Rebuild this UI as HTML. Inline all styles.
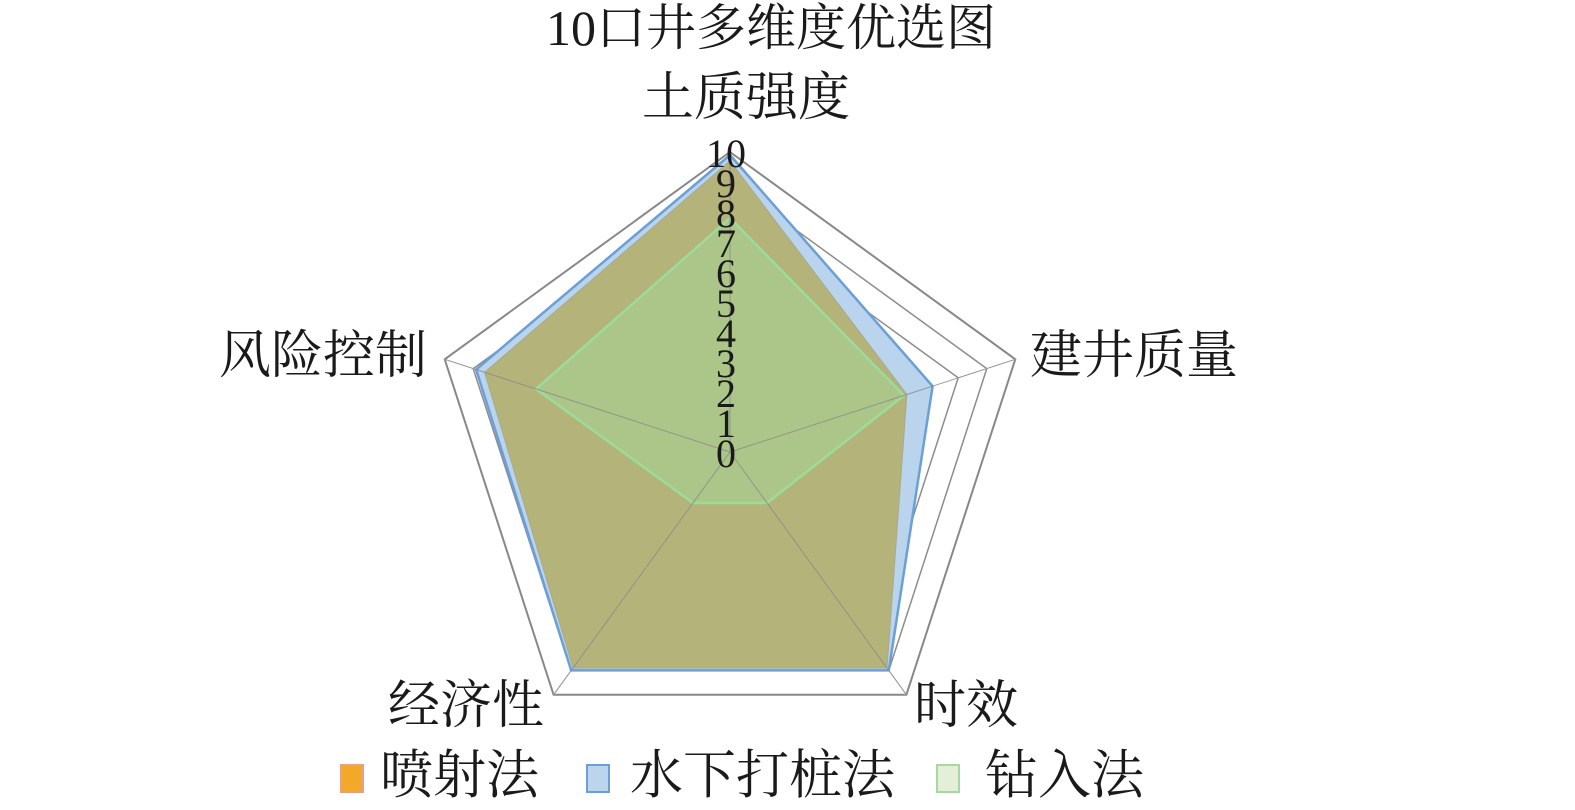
<!DOCTYPE html>
<html><head><meta charset="utf-8"><style>
html,body{margin:0;padding:0;background:#fff;}
svg{display:block;}
text{font-family:"Liberation Serif","Noto Serif CJK SC",serif;fill:#1a1a1a;}
</style></head><body>
<svg width="1575" height="810" viewBox="0 0 1575 810" xmlns="http://www.w3.org/2000/svg">
<text x="771" y="45" font-size="50" text-anchor="middle">10口井多维度优选图</text>
<text x="746" y="115" font-size="52" text-anchor="middle">土质强度</text>
<text x="1134" y="373" font-size="52" text-anchor="middle">建井质量</text>
<text x="323" y="373" font-size="52" text-anchor="middle">风险控制</text>
<text x="466" y="723" font-size="52" text-anchor="middle">经济性</text>
<text x="966" y="723" font-size="52" text-anchor="middle">时效</text>
<g fill="none" stroke="#8c8c8c" stroke-width="1.5">
<polygon points="730,152 1015.3,359.3 906.4,694.7 553.6,694.7 444.7,359.3" stroke="#888" stroke-width="2"/>
<polygon points="730,182 986.8,368.6 888.8,670.4 571.2,670.4 473.2,368.6"/>
<polygon points="730,212 958.2,377.8 871.1,646.2 588.9,646.2 501.8,377.8"/>
</g>
<g stroke="#c8c8c8" stroke-width="1">
<line x1="906.4" y1="694.7" x2="888.8" y2="670.4"/><line x1="553.6" y1="694.7" x2="571.2" y2="670.4"/>
<line x1="1015.3" y1="359.3" x2="958.2" y2="377.8"/><line x1="444.7" y1="359.3" x2="501.8" y2="377.8"/>
</g>
<polygon points="730,155 932.6,386.2 888.8,670.4 571.2,670.4 476.1,369.5" fill="#b9d4ec" stroke="#6b9fd6" stroke-width="2.5"/>
<polygon points="730,161 906.9,394.5 887,668 573,668 484.6,372.3" fill="#b4b37a" stroke="#a9a98f" stroke-width="1"/>
<polygon points="730,218 904,395.5 767,503 693,503 536,389" fill="#acc689" stroke="#9cdc9a" stroke-width="2.5"/>
<g stroke="#8a8a8a" stroke-width="1" opacity="0.8">
<line x1="730" y1="452" x2="730" y2="152"/>
<line x1="730" y1="452" x2="1015.3" y2="359.3"/>
<line x1="730" y1="452" x2="906.4" y2="694.7"/>
<line x1="730" y1="452" x2="553.6" y2="694.7"/>
<line x1="730" y1="452" x2="444.7" y2="359.3"/>
</g>
<g font-size="40" text-anchor="middle">
<text x="726" y="467">0</text><text x="726" y="437">1</text><text x="726" y="407">2</text>
<text x="726" y="377">3</text><text x="726" y="347">4</text><text x="726" y="317">5</text>
<text x="726" y="287">6</text><text x="726" y="257">7</text><text x="726" y="227">8</text>
<text x="726" y="197">9</text><text x="726" y="167">10</text>
</g>
<rect x="341" y="765" width="22" height="27" fill="#f2a92a" stroke="#e8a08a" stroke-width="2"/>
<text x="380" y="793" font-size="53">喷射法</text>
<rect x="587" y="765" width="22" height="27" fill="#bcd4ec" stroke="#6b9fd6" stroke-width="2"/>
<text x="630" y="793" font-size="53">水下打桩法</text>
<rect x="937" y="765" width="22" height="27" fill="#e3efd8" stroke="#a8d8a0" stroke-width="2"/>
<text x="985" y="793" font-size="53">钻入法</text>
</svg>
</body></html>
